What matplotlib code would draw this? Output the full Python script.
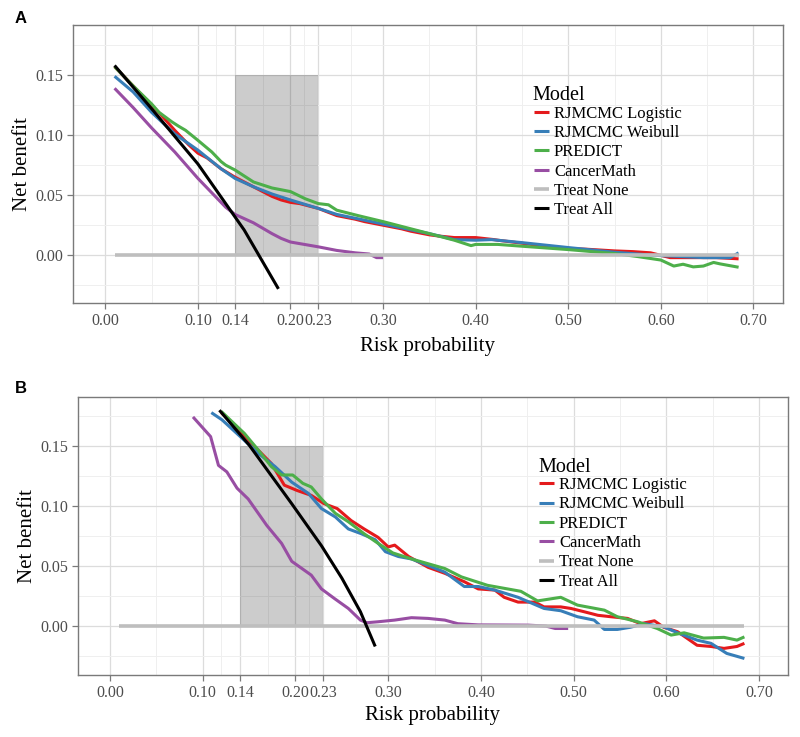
import matplotlib
matplotlib.use('Agg')
import matplotlib.pyplot as plt

plt.rcParams['font.family'] = ['Liberation Serif', 'DejaVu Serif']

models = ['RJMCMC Logistic', 'RJMCMC Weibull', 'PREDICT', 'CancerMath', 'Treat None', 'Treat All']
colors = ['#E41A1C', '#377EB8', '#4DAF4A', '#984EA3', '#BEBEBE', '#000000']

x_ticks = [0.00, 0.10, 0.14, 0.20, 0.23, 0.30, 0.40, 0.50, 0.60, 0.70]
x_minor = [0.05, 0.12, 0.17, 0.215, 0.265, 0.35, 0.45, 0.55, 0.65]
y_ticks = [0.00, 0.05, 0.10, 0.15]
y_minor = [-0.025, 0.025, 0.075, 0.125, 0.175]
shade_x = [0.14, 0.23]
shade_y = [0.00, 0.15]

# ---- panel A ----
a_log_x = [0.01, 0.02, 0.03, 0.04, 0.05, 0.06, 0.075, 0.09, 0.10, 0.11, 0.125, 0.14, 0.15, 0.16, 0.17, 0.18,
           0.19, 0.20, 0.21, 0.22, 0.23, 0.25, 0.27, 0.28, 0.30, 0.32, 0.33, 0.35, 0.36, 0.377, 0.40, 0.42,
           0.424, 0.45, 0.47, 0.50, 0.52, 0.55, 0.57, 0.589, 0.61, 0.62, 0.646, 0.66, 0.684]
a_log_y = [0.157, 0.149, 0.141, 0.133, 0.125, 0.117, 0.104, 0.092, 0.085, 0.081, 0.072, 0.065, 0.061, 0.057, 0.053, 0.049,
           0.046, 0.044, 0.043, 0.041, 0.039, 0.033, 0.030, 0.028, 0.025, 0.022, 0.020, 0.017, 0.016, 0.0147, 0.0147, 0.013,
           0.0125, 0.010, 0.008, 0.0056, 0.005, 0.0036, 0.003, 0.002, -0.002, -0.002, -0.002, -0.002, -0.003]

a_wei_x = [0.01, 0.03, 0.05, 0.075, 0.10, 0.125, 0.14, 0.16, 0.18, 0.20, 0.23, 0.25, 0.30, 0.35, 0.377, 0.40,
           0.417, 0.45, 0.50, 0.55, 0.592, 0.646, 0.675, 0.684]
a_wei_y = [0.149, 0.136, 0.119, 0.101, 0.0875, 0.072, 0.064, 0.057, 0.051, 0.046, 0.039, 0.034, 0.026, 0.018, 0.013, 0.0125,
           0.013, 0.0105, 0.0064, 0.0025, 0.000, -0.002, -0.002, 0.002]

a_pre_x = [0.01, 0.03, 0.05, 0.058, 0.072, 0.079, 0.0867, 0.0995, 0.115, 0.125, 0.130, 0.140, 0.160, 0.180, 0.200,
           0.216, 0.230, 0.241, 0.250, 0.273, 0.300, 0.350, 0.377, 0.395, 0.40, 0.424, 0.45, 0.50, 0.55, 0.574,
           0.60, 0.614, 0.624, 0.635, 0.646, 0.657, 0.664, 0.684]
a_pre_y = [0.157, 0.141, 0.126, 0.119, 0.111, 0.1075, 0.104, 0.096, 0.086, 0.078, 0.075, 0.071, 0.061, 0.056, 0.053,
           0.047, 0.043, 0.042, 0.0375, 0.033, 0.028, 0.018, 0.0125, 0.008, 0.009, 0.009, 0.0075, 0.0047, 0.0014, -0.001,
           -0.004, -0.009, -0.0075, -0.0097, -0.009, -0.006, -0.0072, -0.010]

a_cm_x = [0.01, 0.03, 0.05, 0.075, 0.10, 0.115, 0.13, 0.14, 0.16, 0.18, 0.19, 0.20, 0.215, 0.23, 0.25, 0.27, 0.285,
          0.293, 0.300]
a_cm_y = [0.139, 0.123, 0.106, 0.086, 0.064, 0.052, 0.040, 0.034, 0.027, 0.018, 0.014, 0.011, 0.009, 0.007, 0.004, 0.002,
          0.001, -0.002, -0.002]

a_none_x = [0.01, 0.684]
a_none_y = [0.0, 0.0]

a_all_x = [0.01, 0.05, 0.10, 0.15, 0.187]
a_all_y = [0.158, 0.122, 0.076, 0.021, -0.028]

# ---- panel B ----
b_log_x = [0.12, 0.138, 0.153, 0.174, 0.188, 0.202, 0.217, 0.231, 0.245, 0.260, 0.274, 0.289, 0.300, 0.307, 0.322,
           0.343, 0.361, 0.382, 0.397, 0.415, 0.425, 0.440, 0.458, 0.468, 0.486, 0.497, 0.511, 0.526, 0.540, 0.558,
           0.572, 0.587, 0.597, 0.612, 0.633, 0.648, 0.662, 0.676, 0.684]
b_log_y = [0.178, 0.165, 0.152, 0.1356, 0.1175, 0.113, 0.109, 0.102, 0.098, 0.088, 0.081, 0.074, 0.066, 0.0675, 0.058,
           0.049, 0.044, 0.037, 0.031, 0.030, 0.024, 0.020, 0.020, 0.016, 0.016, 0.0147, 0.012, 0.009, 0.0078, 0.0064,
           0.002, 0.0044, -0.001, -0.0047, -0.016, -0.017, -0.0186, -0.017, -0.0144]

b_wei_x = [0.1093, 0.1208, 0.1405, 0.160, 0.178, 0.196, 0.214, 0.228, 0.243, 0.257, 0.271, 0.286, 0.297, 0.311, 0.325,
           0.361, 0.382, 0.397, 0.415, 0.440, 0.468, 0.486, 0.504, 0.522, 0.533, 0.547, 0.561, 0.576, 0.597, 0.612,
           0.633, 0.648, 0.665, 0.684]
b_wei_y = [0.178, 0.172, 0.158, 0.144, 0.133, 0.120, 0.1106, 0.098, 0.091, 0.081, 0.077, 0.072, 0.062, 0.058, 0.056,
           0.045, 0.033, 0.033, 0.030, 0.024, 0.0147, 0.0128, 0.0078, 0.005, -0.0028, -0.0028, -0.001, 0.002, -0.0006, -0.0056,
           -0.0117, -0.0144, -0.0228, -0.027]

b_pre_x = [0.12, 0.145, 0.160, 0.174, 0.185, 0.197, 0.208, 0.217, 0.228, 0.243, 0.257, 0.274, 0.289, 0.305, 0.325,
           0.361, 0.379, 0.407, 0.443, 0.461, 0.486, 0.504, 0.533, 0.547, 0.569, 0.590, 0.605, 0.619, 0.640, 0.662,
           0.676, 0.684]
b_pre_y = [0.179, 0.1606, 0.1467, 0.133, 0.126, 0.126, 0.119, 0.116, 0.106, 0.094, 0.087, 0.077, 0.069, 0.061, 0.056,
           0.048, 0.041, 0.034, 0.029, 0.021, 0.024, 0.0175, 0.0133, 0.0078, 0.0036, -0.002, -0.0075, -0.0056, -0.010, -0.0094,
           -0.0117, -0.009]

b_cm_x = [0.0895, 0.1085, 0.117, 0.126, 0.137, 0.149, 0.169, 0.185, 0.196, 0.217, 0.228, 0.242, 0.257, 0.270, 0.277,
          0.289, 0.307, 0.325, 0.343, 0.361, 0.375, 0.397, 0.451, 0.470, 0.480, 0.494]
b_cm_y = [0.1744, 0.158, 0.134, 0.1286, 0.115, 0.106, 0.084, 0.069, 0.054, 0.0425, 0.031, 0.023, 0.0147, 0.005, 0.0028,
          0.0036, 0.005, 0.007, 0.0064, 0.005, 0.002, 0.001, 0.0008, 0.0, -0.002, -0.002]

b_none_x = [0.01, 0.684]
b_none_y = [0.0, 0.0]

b_all_x = [0.118, 0.15, 0.196, 0.228, 0.25, 0.27, 0.286]
b_all_y = [0.180, 0.151, 0.102, 0.067, 0.040, 0.012, -0.017]


def draw_panel(ax, series, xlim, ylim, legend_at, title_at, xlabelpad):
    ax.fill_between(shade_x, shade_y[0], shade_y[1], color='black', alpha=0.2, lw=0, zorder=1)
    for i, (xs, ys) in enumerate(series):
        lw = 2.6 if models[i] == 'Treat None' else 2.2
        ax.plot(xs, ys, color=colors[i], lw=lw, label=models[i], zorder=2 + i, solid_capstyle='butt')
    ax.set_xlim(xlim)
    ax.set_ylim(ylim)
    ax.set_xticks(x_ticks)
    ax.set_xticklabels(['%.2f' % v for v in x_ticks])
    ax.set_xticks(x_minor, minor=True)
    ax.set_yticks(y_ticks)
    ax.set_yticklabels(['%.2f' % v for v in y_ticks])
    ax.set_yticks(y_minor, minor=True)
    ax.grid(True, which='major', color='#dcdcdc', lw=0.9, zorder=0)
    ax.grid(True, which='minor', color='#efefef', lw=0.7, zorder=0)
    ax.set_axisbelow(True)
    ax.tick_params(which='major', length=4, width=0.9, color='#7a7a7a', labelcolor='#4d4d4d',
                   labelsize=11.5, pad=3)
    ax.tick_params(which='minor', length=0)
    for s in ax.spines.values():
        s.set_color('#7a7a7a')
        s.set_linewidth(1.0)
    ax.set_xlabel('Risk probability', fontsize=15, labelpad=xlabelpad)
    ax.set_ylabel('Net benefit', fontsize=15, labelpad=2)
    ax.legend(loc='upper left', bbox_to_anchor=legend_at, bbox_transform=fig.transFigure,
              frameon=False, fontsize=12, handlelength=0.9, handletextpad=0.3,
              labelspacing=0.2, borderpad=0, borderaxespad=0)
    fig.text(title_at[0], title_at[1], 'Model', fontsize=14.5, va='baseline', ha='left')


fig = plt.figure(figsize=(8, 7.37), dpi=100)
axA = fig.add_axes([0.0909, 0.5885, 0.8879, 0.3776])
axB = fig.add_axes([0.0971, 0.0841, 0.8879, 0.3772])

draw_panel(axA, [(a_log_x, a_log_y), (a_wei_x, a_wei_y), (a_pre_x, a_pre_y), (a_cm_x, a_cm_y),
                 (a_none_x, a_none_y), (a_all_x, a_all_y)],
           (-0.0352, 0.732), (-0.040, 0.1917),
           (534 / 800, 1 - 105.5 / 737), (532 / 800, 1 - 100 / 737), 6)
draw_panel(axB, [(b_log_x, b_log_y), (b_wei_x, b_wei_y), (b_pre_x, b_pre_y), (b_cm_x, b_cm_y),
                 (b_none_x, b_none_y), (b_all_x, b_all_y)],
           (-0.0348, 0.731), (-0.0408, 0.191),
           (539 / 800, 1 - 477 / 737), (538 / 800, 1 - 471.5 / 737), 4)

fig.text(15 / 800, 1 - 11 / 737, 'A', family='Liberation Sans', fontweight='bold', fontsize=12, va='top')
fig.text(15 / 800, 1 - 381 / 737, 'B', family='Liberation Sans', fontweight='bold', fontsize=12, va='top')

fig.savefig('out.png', dpi=100)
